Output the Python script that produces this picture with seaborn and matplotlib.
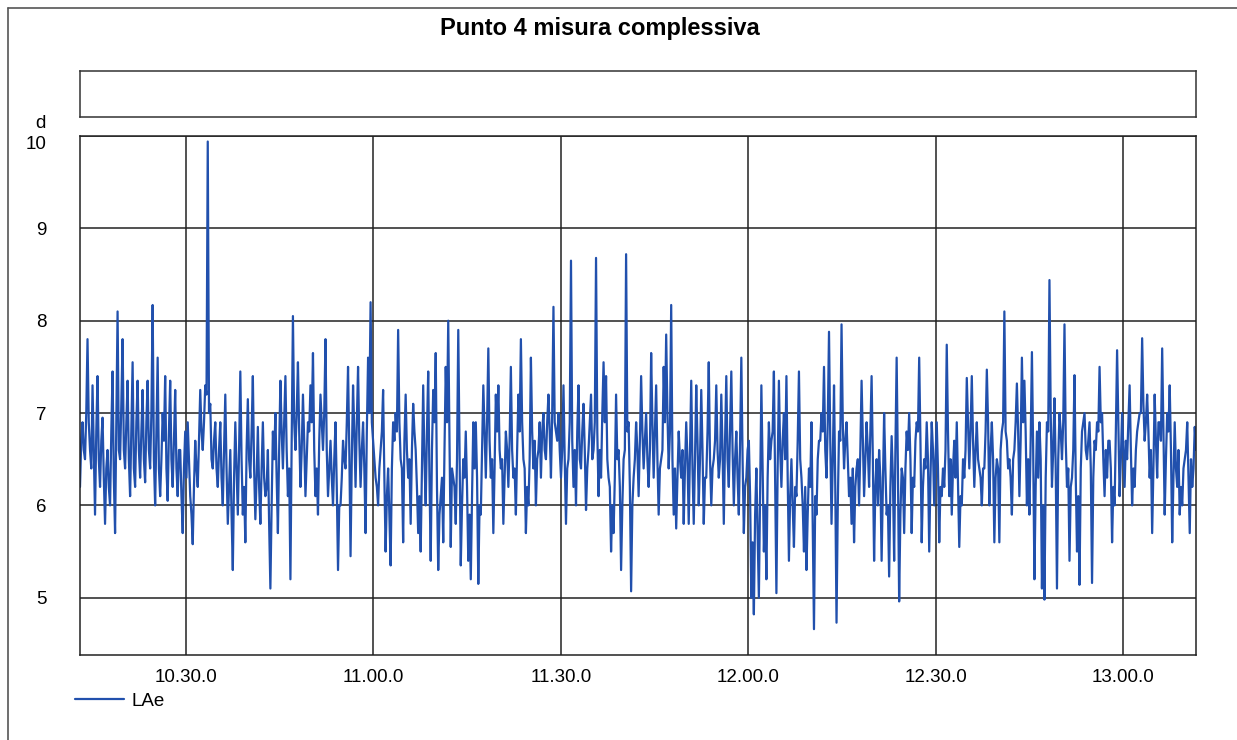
import numpy as np
import pandas as pd
import matplotlib
matplotlib.use("Agg")
import matplotlib.pyplot as plt
import seaborn as sns

# LAe readings (dB): peaks/troughs, 8 values per ~20 px
lae_peaks = [
    # 10.13 - 10.38
    6.2, 6.9, 6.5, 7.8, 6.6, 7.3, 5.9, 7.4,
    6.2, 6.95, 5.8, 6.6, 6.0, 7.45, 5.7, 8.1,
    6.5, 7.8, 6.4, 7.35, 6.1, 7.55, 6.2, 7.35,
    6.3, 7.25, 6.25, 7.35, 6.4, 8.17, 6.0, 7.6,
    6.1, 7.0, 7.4, 6.05, 7.35, 6.2, 7.25, 6.1,
    6.6, 5.7, 6.8, 6.9, 6.1, 5.58, 6.7, 6.2,
    7.25, 6.6, 7.3, 9.94, 7.1, 6.4, 6.9, 6.2,
    6.9, 6.0, 7.2, 5.8, 6.6, 5.3, 6.9, 5.9,
    # 10.38 - 11.04
    7.45, 5.9, 5.6, 7.15, 6.3, 7.4, 5.85, 6.85,
    5.8, 6.9, 6.1, 6.6, 5.1, 6.8, 7.0, 5.7,
    7.35, 6.4, 7.4, 6.1, 5.2, 8.05, 6.6, 7.55,
    6.2, 7.2, 6.1, 6.9, 7.3, 7.65, 6.1, 5.9,
    7.2, 6.6, 7.8, 6.1, 6.7, 6.0, 6.9, 5.3,
    6.0, 6.7, 6.4, 7.5, 5.45, 7.3, 6.2, 7.5,
    6.2, 6.9, 5.7, 7.6, 8.2, 6.7, 6.3, 6.0,
    6.6, 7.25, 5.5, 6.4, 5.35, 6.9, 7.0, 7.9,
    # 11.04 - 11.30
    6.5, 5.6, 7.2, 6.3, 5.8, 7.1, 6.6, 5.7,
    5.5, 7.3, 6.0, 7.45, 5.4, 7.25, 7.65, 5.3,
    6.1, 5.6, 7.5, 8.0, 5.55, 6.3, 5.8, 7.9,
    5.35, 6.5, 6.8, 5.4, 5.2, 6.9, 6.9, 5.15,
    5.9, 7.3, 6.3, 7.7, 6.3, 5.7, 7.2, 7.3,
    6.4, 5.8, 6.8, 6.2, 7.5, 6.3, 5.9, 7.2,
    7.8, 6.5, 5.7, 6.0, 7.6, 6.4, 6.0, 6.6,
    6.3, 7.0, 6.5, 7.2, 6.3, 8.15, 6.8, 7.0,
    # 11.30 - 11.55
    6.3, 7.3, 5.8, 6.5, 8.65, 6.2, 6.0, 7.3,
    6.4, 7.1, 5.95, 6.6, 7.2, 6.6, 8.68, 6.1,
    6.3, 7.55, 7.4, 6.3, 5.5, 5.7, 7.2, 6.6,
    5.3, 6.5, 8.72, 6.9, 5.07, 6.3, 6.9, 6.1,
    7.4, 6.4, 7.0, 6.2, 7.65, 6.3, 7.3, 5.9,
    6.5, 7.5, 7.85, 6.4, 8.17, 5.9, 5.75, 6.8,
    6.3, 5.8, 6.9, 5.8, 7.35, 5.8, 7.3, 6.0,
    7.25, 5.8, 6.3, 7.55, 6.0, 6.5, 7.3, 6.3,
    # 11.55 - 12.21
    7.2, 5.8, 7.4, 6.2, 7.45, 6.0, 6.8, 5.9,
    7.6, 5.7, 6.3, 6.7, 5.0, 4.82, 6.4, 5.0,
    7.3, 5.5, 5.2, 6.9, 6.7, 7.45, 5.05, 7.35,
    6.2, 7.0, 7.4, 5.4, 6.5, 5.55, 6.1, 7.45,
    6.3, 5.5, 5.3, 6.4, 6.9, 4.66, 5.9, 6.7,
    7.0, 7.5, 6.3, 7.88, 5.8, 7.3, 4.73, 6.8,
    7.96, 6.4, 6.9, 6.1, 5.8, 5.6, 6.4, 6.0,
    7.35, 6.1, 6.9, 6.2, 7.4, 5.4, 6.5, 6.6,
    # 12.21 - 12.47
    5.4, 7.0, 5.9, 5.23, 6.75, 5.4, 7.6, 4.96,
    6.4, 5.7, 6.8, 7.0, 5.7, 6.2, 6.9, 7.6,
    5.6, 6.5, 6.9, 5.5, 6.9, 6.0, 6.9, 5.6,
    6.1, 6.2, 7.74, 6.1, 5.9, 6.7, 6.9, 5.55,
    6.0, 6.3, 7.38, 6.4, 7.4, 6.2, 6.9, 6.4,
    6.0, 6.4, 7.47, 6.0, 6.9, 5.6, 6.5, 5.6,
    6.8, 8.1, 6.7, 6.5, 5.9, 6.6, 7.32, 6.1,
    7.6, 7.35, 6.0, 5.9, 7.66, 5.2, 6.8, 6.9,
    # 12.47 - 13.12
    5.1, 4.98, 6.9, 8.44, 6.2, 7.16, 5.1, 7.0,
    6.5, 7.96, 6.2, 5.4, 6.3, 7.41, 5.5, 5.14,
    6.8, 7.0, 6.5, 6.9, 5.16, 6.7, 6.9, 7.5,
    7.0, 6.1, 6.3, 6.7, 5.6, 6.0, 7.68, 6.1,
    7.0, 6.2, 6.5, 7.3, 6.0, 6.2, 6.8, 7.0,
    7.81, 6.7, 7.2, 6.3, 5.7, 7.2, 6.3, 6.9,
    7.7, 5.9, 7.0, 7.3, 5.6, 6.9, 6.2, 5.9,
    6.0, 6.5, 6.9, 5.7, 6.2, 6.85,
]

lae_core = [
    # 10.13 - 10.38
    6.7, 6.6, 7.0, 6.9, 6.4, 6.6, 6.8, 6.5,
    6.7, 6.3, 6.4, 6.2, 6.8, 6.3, 6.9, 6.6,
    7.1, 6.6, 6.9, 6.5, 6.8, 6.4, 6.9, 6.6,
    6.8, 6.5, 6.9, 6.6, 7.0, 6.5, 6.8, 6.4,
    6.5, 6.7, 6.4, 6.8, 6.5, 6.7, 6.4, 6.6,
    6.1, 6.4, 6.3, 6.5, 5.9, 6.2, 6.4, 6.7,
    6.8, 6.9, 7.2, 7.0, 6.5, 6.7, 6.4, 6.6,
    6.3, 6.6, 6.4, 6.2, 5.9, 6.3, 6.4, 6.6,
    # 10.38 - 11.04
    6.5, 6.2, 6.6, 6.5, 6.8, 6.4, 6.3, 6.2,
    6.4, 6.3, 6.2, 5.8, 6.0, 6.5, 6.3, 6.6,
    6.8, 6.9, 6.6, 6.4, 6.7, 6.9, 7.0, 6.8,
    6.6, 6.7, 6.5, 6.8, 6.9, 6.6, 6.4, 6.7,
    6.9, 7.0, 6.6, 6.4, 6.3, 6.5, 6.2, 6.0,
    6.3, 6.5, 6.9, 6.6, 6.5, 6.8, 6.9, 6.7,
    6.6, 6.4, 6.8, 7.0, 6.9, 6.5, 6.2, 6.4,
    6.8, 6.3, 6.1, 5.9, 6.4, 6.7, 6.8, 6.9,
    # 11.04 - 11.30
    6.4, 6.7, 6.6, 6.5, 6.6, 6.8, 6.2, 6.1,
    6.4, 6.5, 6.8, 6.3, 6.6, 6.9, 6.2, 5.9,
    6.3, 6.6, 6.9, 6.7, 6.4, 6.2, 6.5, 6.6,
    6.0, 6.3, 6.2, 5.9, 6.1, 6.4, 6.3, 6.0,
    6.6, 6.8, 6.9, 6.7, 6.5, 6.4, 6.8, 6.6,
    6.5, 6.3, 6.6, 6.7, 6.6, 6.4, 6.6, 6.8,
    6.9, 6.4, 6.2, 6.5, 6.8, 6.7, 6.5, 6.9,
    6.8, 6.6, 6.9, 6.8, 7.0, 6.9, 6.7, 6.6,
    # 11.30 - 11.55
    6.6, 6.5, 6.4, 6.9, 6.7, 6.6, 6.8, 6.5,
    6.8, 6.6, 6.4, 6.9, 6.5, 6.9, 6.8, 6.6,
    7.0, 6.9, 6.5, 6.2, 6.0, 6.3, 6.5, 6.2,
    6.0, 6.6, 6.8, 6.2, 6.0, 6.5, 6.6, 6.7,
    6.8, 6.7, 6.5, 6.6, 6.9, 6.8, 6.5, 6.4,
    6.6, 6.9, 7.0, 6.8, 6.5, 6.4, 6.3, 6.5,
    6.6, 6.4, 6.5, 6.6, 6.4, 6.5, 6.7, 6.5,
    6.6, 6.3, 6.8, 6.5, 6.4, 6.7, 6.6, 6.5,
    # 11.55 - 12.21
    6.6, 6.7, 6.5, 6.8, 6.6, 6.5, 6.3, 6.7,
    6.5, 6.2, 6.6, 6.1, 5.6, 5.9, 5.7, 6.2,
    6.4, 6.0, 6.3, 6.5, 6.8, 6.3, 6.4, 6.6,
    6.7, 6.5, 6.3, 6.1, 6.0, 6.2, 6.7, 6.5,
    6.0, 6.2, 5.9, 6.2, 5.8, 6.1, 6.5, 6.7,
    6.8, 6.6, 6.9, 6.7, 6.5, 6.2, 6.0, 6.7,
    6.9, 6.7, 6.5, 6.3, 6.4, 6.2, 6.5, 6.6,
    6.7, 6.5, 6.6, 6.8, 6.5, 6.2, 6.0, 6.3,
    # 12.21 - 12.47
    6.2, 6.4, 6.0, 6.2, 6.3, 6.6, 6.4, 5.9,
    6.3, 6.4, 6.6, 6.5, 6.3, 6.7, 6.8, 6.7,
    6.2, 6.4, 6.5, 6.3, 6.6, 6.5, 6.4, 6.2,
    6.4, 6.6, 6.8, 6.5, 6.4, 6.3, 6.2, 6.1,
    6.5, 6.6, 6.9, 6.8, 6.7, 6.6, 6.5, 6.3,
    6.4, 6.8, 6.9, 6.6, 6.5, 6.3, 6.4, 6.6,
    6.9, 6.8, 6.4, 6.3, 6.5, 6.9, 6.8, 6.7,
    6.9, 6.8, 6.5, 6.7, 6.6, 6.2, 6.3, 6.5,
    # 12.47 - 13.12
    6.0, 6.3, 6.8, 7.0, 6.6, 6.4, 6.5, 6.8,
    6.9, 6.7, 6.4, 6.2, 6.6, 6.3, 6.1, 6.4,
    6.9, 6.6, 6.7, 6.4, 6.3, 6.6, 6.8, 6.9,
    6.5, 6.6, 6.7, 6.4, 6.2, 6.8, 6.9, 6.5,
    6.6, 6.7, 6.9, 6.6, 6.4, 6.6, 6.9, 7.0,
    7.1, 6.9, 6.8, 6.6, 6.4, 6.7, 6.9, 6.7,
    6.8, 6.5, 6.8, 6.6, 6.3, 6.4, 6.6, 6.2,
    6.4, 6.6, 6.3, 6.5, 6.4, 6.6,
]

# measurement window, minutes after 10.00
t_start = 13.03
t_end = 191.68

x_ticks = [30, 60, 90, 120, 150, 180]
x_labels = ["10.30.0", "11.00.0", "11.30.0", "12.00.0", "12.30.0", "13.00.0"]
y_ticks = [5, 6, 7, 8, 9, 10]

title = "Punto 4 misura complessiva"
series_name = "LAe"

# alternate the two readings into one time series
lae = []
for p, c in zip(lae_peaks, lae_core):
    lae += [p, c]
lae += lae_peaks[len(lae_core):] + lae_core[len(lae_peaks):]

df = pd.DataFrame({
    "minuti": np.linspace(t_start, t_end, len(lae)),
    "LAe": lae,
})

sns.set_style("white")
plt.rcParams['font.family'] = ['Liberation Sans', 'DejaVu Sans']
plt.rcParams['text.color'] = 'black'

fig = plt.figure(figsize=(12.37, 7.40), dpi=100)

# outer page frame (only left and top edges visible)
fig.add_artist(plt.Line2D([8/1237, 8/1237], [0, 1 - 8/740], color="#555555", lw=1.2))
fig.add_artist(plt.Line2D([8/1237, 1], [1 - 8/740, 1 - 8/740], color="#555555", lw=1.2))

fig.text(0.485, 1 - 28/740, title, ha="center", va="center",
         fontsize=17, fontweight="bold")

# empty box above the plot
box = fig.add_axes([80/1237, 1 - 117/740, 1116/1237, 46/740])
box.set_xticks([])
box.set_yticks([])
for s in box.spines.values():
    s.set_color("#333333")
    s.set_linewidth(1.1)

ax = fig.add_axes([80/1237, 1 - 655/740, 1116/1237, 519/740])
sns.lineplot(data=df, x="minuti", y="LAe", ax=ax, color="#2150ad",
             linewidth=1.6, label=series_name, legend=False)

ax.set_xlim(t_start, t_end)
ax.set_ylim(4.38, 10)
ax.set_xticks(x_ticks)
ax.set_xticklabels(x_labels, fontsize=13.5)
ax.set_yticks(y_ticks)
ax.set_yticklabels([str(v) for v in y_ticks], fontsize=13.5)
ax.get_yticklabels()[-1].set_va("top")
ax.tick_params(axis="x", length=0, pad=10, labelcolor="black")
ax.tick_params(axis="y", length=8, width=1.1, color="#222222", pad=16, labelcolor="black")
ax.set_xlabel("")
ax.set_ylabel("")
ax.grid(True, color="#222222", linewidth=1.1)
ax.set_axisbelow(True)
for s in ax.spines.values():
    s.set_color("#222222")
    s.set_linewidth(1.1)

fig.text(40/1237, 1 - 124/740, "d", ha="center", va="center", fontsize=13.5)

handles, labels = ax.get_legend_handles_labels()
fig.legend(handles, labels, loc="center left", bbox_to_anchor=(58/1237, 1 - 701/740),
           frameon=False, fontsize=13.5, handlelength=2.6, handletextpad=0.4)

fig.savefig("out.png", dpi=100)
